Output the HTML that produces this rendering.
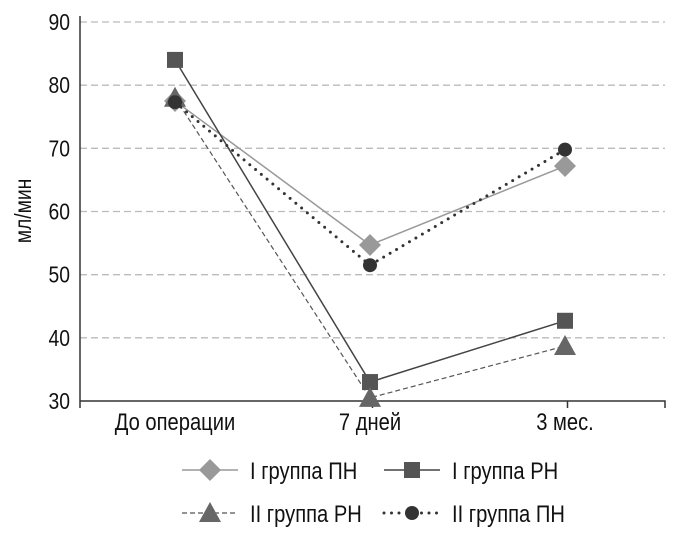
<!DOCTYPE html>
<html><head><meta charset="utf-8"><style>
body{margin:0;background:#fff;}
svg text{font-family:"Liberation Sans",sans-serif;fill:#111;}
</style></head><body>
<svg id="chart" width="689" height="533" viewBox="0 0 689 533"></svg>
<script>
const categories=["До операции","7 дней","3 мес."];
const yTicks=[30,40,50,60,70,80,90];
const s1=[77.5,54.7,67.2];
const s2=[84,33,42.7];
const s3=[78,30.5,38.7];
const s4=[77.3,51.5,69.8];
const names=["I группа ПН","I группа РН","II группа РН","II группа ПН"];
const NS="http://www.w3.org/2000/svg";
const svg=document.getElementById('chart');
const x0=80,x1=665,yTop=22,yBot=401;
function y(v){return yBot-(v-30)/(90-30)*(yBot-yTop);}
function x(i){return 175+i*195;}
function mk(tag,attrs,parent){const e=document.createElementNS(NS,tag);for(const k in attrs)e.setAttribute(k,attrs[k]);(parent||svg).appendChild(e);return e;}
function txt(str,tx,ty,size,anchor,parent){const t=mk('text',{transform:`translate(${tx},${ty}) scale(0.84,1)`,x:0,y:0,'font-size':size,'text-anchor':anchor},parent);t.textContent=str;return t;}
yTicks.forEach(t=>{
 if(t>30){const g=mk('line',{x1:x0,x2:x1,y1:y(t),y2:y(t),stroke:'#bbb','stroke-width':1.3,'stroke-dasharray':'7,4'});
 
 }
 const tx=txt(String(t),x0-10,y(t)+8,23,'end');
 
 
});
const ax=mk('path',{d:`M${x0},${yTop-6}V${yBot}H${x1}V${yBot+7}M${x0+292.5},${yBot}v7M${x0+487.5},${yBot}v7M${x0},${yBot}v7`,stroke:'#333','stroke-width':1.5,fill:'none'});


categories.forEach((c,i)=>{const t=txt(c,x(i),yBot+29,24,'middle');
 
 });
const yl=mk('text',{transform:'translate(31,211) rotate(-90) scale(0.84,1)','text-anchor':'middle','font-size':23});yl.textContent='мл/мин';


function marker(type,cx,cy,color,parent){
 if(type==='d')return mk('polygon',{points:`${cx},${cy-11} ${cx+11},${cy} ${cx},${cy+11} ${cx-11},${cy}`,fill:color},parent);
 if(type==='s')return mk('rect',{x:cx-8,y:cy-8,width:16,height:16,fill:color},parent);
 if(type==='t')return mk('polygon',{points:`${cx},${cy-11} ${cx+11},${cy+9} ${cx-11},${cy+9}`,fill:color},parent);
 return mk('circle',{cx:cx,cy:cy,r:7,fill:color},parent);
}
const series=[
 {d:s1,color:'#999',lc:'#999',dash:'',m:'d',w:1.5,cap:'butt'},
 {d:s2,color:'#555',lc:'#444',dash:'',m:'s',w:1.5,cap:'butt'},
 {d:s3,color:'#666',lc:'#555',dash:'5,3',m:'t',w:1.2,cap:'butt'},
 {d:s4,color:'#333',lc:'#333',dash:'0,7.5',m:'c',w:3,cap:'round'}
];
series.forEach((s,k)=>{
 const g=mk('g',{});
 
 
 mk('polyline',{points:s.d.map((v,i)=>x(i)+','+y(v)).join(' '),fill:'none',stroke:s.lc,'stroke-width':s.w,'stroke-dasharray':s.dash,'stroke-linecap':s.cap},g);
 s.d.forEach((v,i)=>{const m=marker(s.m,x(i),y(v),s.color,g);
  
  });
 const lx=k%2===0?182:384, ly=k<2?470:513;
 const lg=mk('g',{});
 
 
 mk('line',{x1:lx,x2:lx+56,y1:ly,y2:ly,stroke:s.lc,'stroke-width':s.w,'stroke-dasharray':s.dash,'stroke-linecap':s.cap},lg);
 marker(s.m,lx+28,ly,s.color,lg);
 txt(names[k],lx+68,ly+9,24,'start',lg);
});
</script>
</body></html>
